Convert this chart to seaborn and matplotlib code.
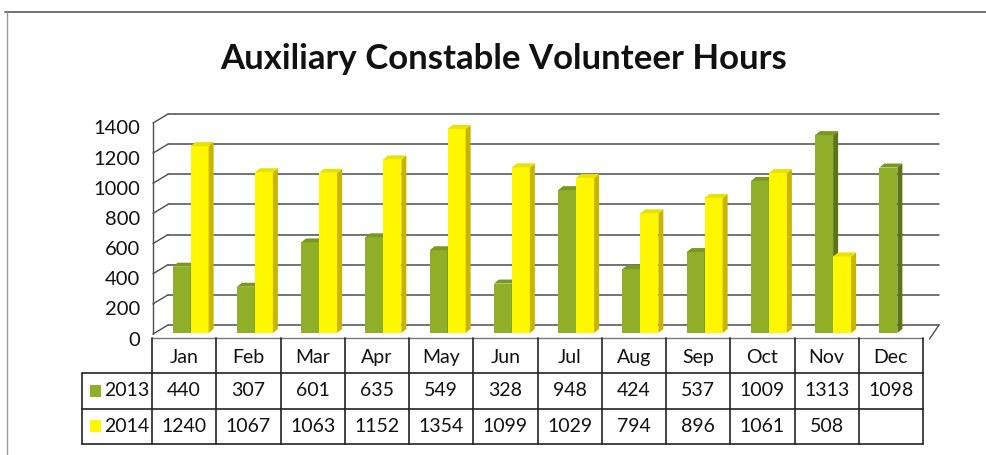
import matplotlib.pyplot as plt
import numpy as np
import pandas as pd
import seaborn as sns
from matplotlib.lines import Line2D
from matplotlib.patches import Polygon, Rectangle
from matplotlib.transforms import ScaledTranslation

months = ["Jan", "Feb", "Mar", "Apr", "May", "Jun", "Jul", "Aug", "Sep", "Oct", "Nov", "Dec"]
years = ["2013", "2014"]
hours_2013 = [440, 307, 601, 635, 549, 328, 948, 424, 537, 1009, 1313, 1098]
hours_2014 = [1240, 1067, 1063, 1152, 1354, 1099, 1029, 794, 896, 1061, 508, np.nan]
y_ticks = [0, 200, 400, 600, 800, 1000, 1200, 1400]

front_colors = ["#8FAF28", "#FFF700"]
side_colors = ["#5E7316", "#C9B400"]
top_colors = ["#7A9820", "#E8E200"]
grid_color = "#4d4d4d"

df = pd.DataFrame({
    "month": months * 2,
    "year": [years[0]] * 12 + [years[1]] * 12,
    "hours": hours_2013 + hours_2014,
})

sns.set_style("white")
plt.rcParams["font.family"] = ["Lato", "DejaVu Sans"]

W, H = 987, 455
fig = plt.figure(figsize=(W / 100, H / 100), dpi=100)
fig.patch.set_facecolor("white")


def fx(px):
    return px / W


def fy(py):
    return 1 - py / H


# page frame from the scan
fig.add_artist(Line2D([fx(5), fx(987)], [fy(12), fy(12)], color="#666666", lw=1.3))
fig.add_artist(Line2D([fx(7), fx(7)], [fy(12), fy(455)], color="#999999", lw=1.0))

fig.text(fx(504), fy(59), "Auxiliary Constable Volunteer Hours", ha="center", va="center",
         fontsize=25, fontweight="bold", color="#111111")

# bar area: 0 at y=333px, 1400 at y=122px, categories 64.25px wide
px_per_cat = 64.25
left_px = 158.5
ax = fig.add_axes([fx(left_px), fy(333), fx(12 * px_per_cat), (333 - 122) / H])
sns.barplot(data=df, x="month", y="hours", hue="year", order=months, hue_order=years,
            palette=front_colors, width=0.56, saturation=1, legend=False,
            edgecolor="none", linewidth=0, ax=ax, errorbar=None)
ax.set_xlim(-0.5, 11.5)
ax.set_ylim(0, 1400)
ax.set_xlabel("")
ax.set_ylabel("")
ax.set_xticks([])
for s in ax.spines.values():
    s.set_visible(False)

ux = 1 / px_per_cat          # data units per px (x)
uy = 1400 / (333 - 122)      # data units per px (y)

# back wall gridlines and left wall
back_dx, back_dy = 9.5 * ux, 8 * uy
front_dx, front_dy = -5.5 * ux, -1 * uy
x_back_l, x_back_r = -0.5 + back_dx, 11.5 + 9.5 * ux
for v in y_ticks:
    ax.plot([x_back_l, x_back_r], [v + back_dy, v + back_dy], color=grid_color, lw=1.1,
            clip_on=False, zorder=1)
    ax.plot([-0.5 + front_dx, x_back_l], [v + front_dy, v + back_dy], color=grid_color,
            lw=1.0, clip_on=False, zorder=1)
ax.plot([-0.5 + front_dx, -0.5 + front_dx], [front_dy, 1400 + front_dy], color=grid_color,
        lw=1.0, clip_on=False, zorder=1)
# floor right edge
ax.plot([11.5, x_back_r], [-6 * uy, back_dy], color=grid_color, lw=1.0, clip_on=False, zorder=1)

# y tick labels (pad is in points)
ax.set_yticks(y_ticks)
ax.set_yticklabels([str(v) for v in y_ticks])
ax.tick_params(axis="y", length=0, pad=13, labelsize=14.5, labelcolor="#111111")
shift = ScaledTranslation(0, -5.5 / 100, fig.dpi_scale_trans)
for lab in ax.get_yticklabels():
    lab.set_transform(lab.get_transform() + shift)

# 3D faces for each bar
depth_x, depth_y = 5 * ux, 4 * uy
green_rgb = plt.matplotlib.colors.to_rgb(front_colors[0])
for p in list(ax.patches):
    h = p.get_height()
    if not np.isfinite(h) or h <= 0:
        continue
    x0, w = p.get_x(), p.get_width()
    k = 0 if np.allclose(p.get_facecolor()[:3], green_rgb) else 1
    z = 3 + x0 * 0.1
    p.set_zorder(z)
    side = Polygon([(x0 + w, 0), (x0 + w + depth_x, depth_y), (x0 + w + depth_x, h + depth_y),
                    (x0 + w, h)], closed=True, facecolor=side_colors[k], edgecolor="none",
                   zorder=z + 0.01)
    top = Polygon([(x0, h), (x0 + depth_x, h + depth_y), (x0 + w + depth_x, h + depth_y),
                   (x0 + w, h)], closed=True, facecolor=top_colors[k], edgecolor="none",
                  zorder=z + 0.02)
    ax.add_patch(side)
    ax.add_patch(top)

# data table below the chart
tab_left_px, tab_right_px = 82, 152 + 12 * px_per_cat
tax = fig.add_axes([fx(tab_left_px), fy(444), fx(tab_right_px - tab_left_px), (444 - 338) / H])
lab_w = (152 - tab_left_px) / px_per_cat
tax.set_xlim(-0.5 - lab_w, 11.5)
tax.set_ylim(0, 3)
tax.axis("off")
line_kw = dict(color="#222222", lw=1.2, clip_on=False)
for yv in [0, 1, 2]:
    tax.plot([-0.5 - lab_w, 11.5], [yv, yv], **line_kw)
tax.plot([-0.5, 11.5], [3, 3], color="#777777", lw=1.0, clip_on=False)
tax.plot([-0.5 - lab_w, -0.5 - lab_w], [0, 2], **line_kw)
for i in range(13):
    tax.plot([i - 0.5, i - 0.5], [0, 3], **line_kw)

for i, m in enumerate(months):
    tax.text(i, 2.45, m, ha="center", va="center", fontsize=14, color="#111111")
for r, (yr, vals) in enumerate(zip(years, [hours_2013, hours_2014])):
    yc = 1.5 - r
    tax.add_patch(Rectangle((-0.5 - lab_w + 8 * ux, yc - 0.17), 11 * ux, 0.34,
                            facecolor=front_colors[r], edgecolor="none", clip_on=False))
    tax.text(-0.5 - lab_w + 22 * ux, yc, yr, ha="left", va="center", fontsize=14, color="#111111")
    for i, v in enumerate(vals):
        if np.isfinite(v):
            tax.text(i, yc, f"{int(v)}", ha="center", va="center", fontsize=14, color="#111111")

fig.savefig("out.png", dpi=100, facecolor="white")
